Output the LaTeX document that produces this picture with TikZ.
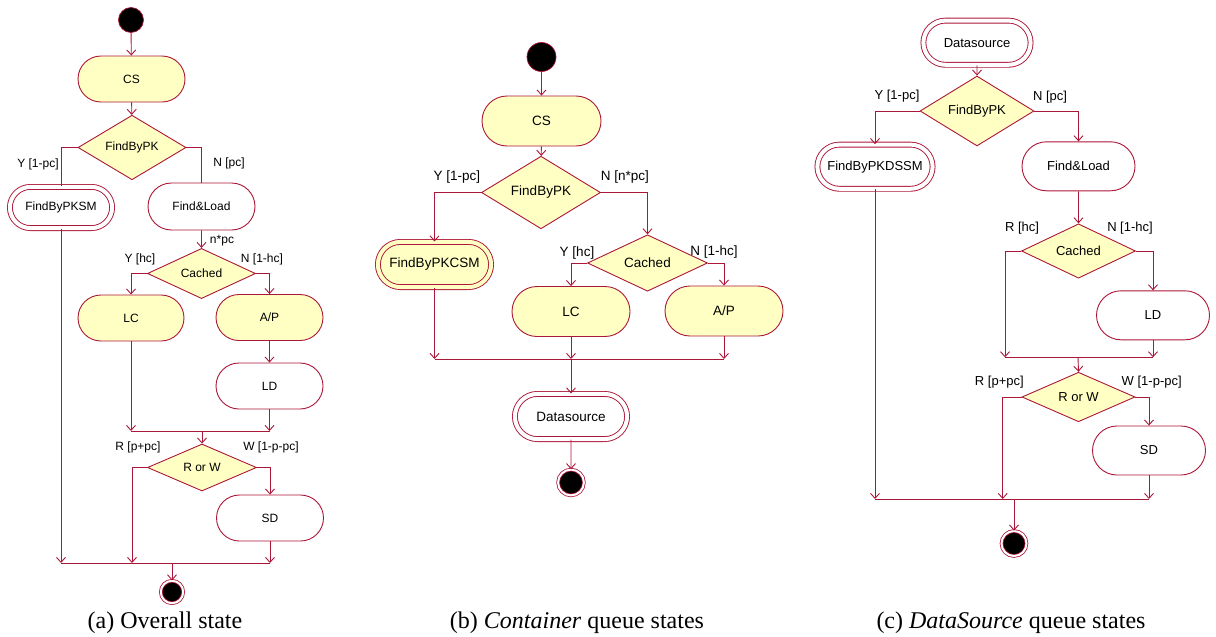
\documentclass[tikz,border=0pt]{standalone}
\usepackage{fontspec}
\setmainfont{Liberation Serif}
\setsansfont{Liberation Sans}
\usetikzlibrary{shapes.misc,shapes.geometric,arrows.meta}
\definecolor{umlred}{RGB}{172,22,56}
\definecolor{umlyel}{RGB}{255,255,196}
\tikzset{
  act/.style={rounded rectangle, draw=umlred, line width=0.9pt, inner sep=1pt},
  yel/.style={act, fill=umlyel},
  wht/.style={act, fill=white},
  subm/.style={act, fill=#1, double=#1, double distance=4pt},
  dec/.style={diamond, draw=umlred, fill=umlyel, line width=0.9pt, inner sep=0pt},
  init/.style={circle, fill=black, draw=umlred, line width=0.7pt, minimum size=#1, inner sep=0pt},
  final/.style={circle, fill=black, draw=umlred, double=white, double distance=2pt, line width=0.8pt, minimum size=#1, inner sep=0pt},
  link/.style={draw=umlred, line width=0.9pt},
  flow/.style={link, -{Straight Barb[length=5pt,width=9pt,line width=0.9pt]}},
  lbl/.style={inner sep=0pt},
  capt/.style={inner sep=0pt, font=\fontsize{24}{28}\selectfont},
}
\begin{document}
\begin{tikzpicture}[x=1pt,y=-1pt]
\useasboundingbox (0,0) rectangle (1216,637);

% ---------------- (a) overall state ----------------
\begin{scope}[every node/.append style={font=\sffamily\fontsize{12}{14}\selectfont}]
\node[init=25pt] (sa) at (131,20) {};
\node[yel, minimum width=109pt, minimum height=46pt] (csa) at (131.5,79) {CS};
\node[dec, minimum width=108pt, minimum height=45pt] (fpka) at (132,147.5) {FindByPK};
\node[subm=white, minimum width=104.2pt, minimum height=41.2pt] (sma) at (61,207.5) {FindByPKSM};
\node[wht, minimum width=109pt, minimum height=47pt] (fla) at (201.5,206.5) {Find\&Load};
\node[dec, minimum width=108pt, minimum height=45pt] (cha) at (201.5,273.5) {Cached};
\node[yel, minimum width=108pt, minimum height=46pt] (lca) at (131,318) {LC};
\node[yel, minimum width=109pt, minimum height=46pt] (apa) at (269.5,317.5) {A/P};
\node[wht, minimum width=109pt, minimum height=46pt] (lda) at (269.5,386) {LD};
\coordinate (j1a) at (202,431);
\node[dec, minimum width=109pt, minimum height=47pt] (rwa) at (202,467.5) {R or W};
\node[wht, minimum width=109pt, minimum height=46pt] (sda) at (270,518) {SD};
\coordinate (j2a) at (172,563);
\coordinate (ra) at (132,563);
\node[final=22.4pt] (ea) at (172,592) {};

\node[lbl] (la1) at (38,164) {Y [1-pc]};
\node[lbl] (la2) at (229,163) {N [pc]};
\node[lbl] (la3) at (222,241) {n*pc};
\node[lbl] (la4) at (140,259) {Y [hc]};
\node[lbl] (la5) at (262,259) {N [1-hc]};
\node[lbl] (la6) at (138,447) {R [p+pc]};
\node[lbl] (la7) at (271,447) {W [1-p-pc]};

\draw[flow] (sa) -- (csa);
\draw[flow] (csa) -- (fpka);
\draw[link] (fpka.west) -| (sma.north);
\draw[link] (fpka.east) -| (fla.north);
\draw[flow] (fla) -- (fla |- cha.north);
\draw[flow] (cha.west) -| (lca.north);
\draw[flow] (cha.east) -| (apa.north);
\draw[flow] (apa) -- (lda);
\draw[link] (lca |- j1a) -- (lda |- j1a);
\draw[flow] (lca.south) -- (lca |- j1a);
\draw[flow] (lda.south) -- (lda |- j1a);
\draw[flow] (j1a) -- (rwa.north);
\draw[flow] (rwa.west) -| (ra);
\draw[flow] (rwa.east) -| (sda.north);
\draw[link] (sma |- j2a) -- (sda |- j2a);
\draw[flow] (sma.south) -- (sma |- j2a);
\draw[flow] (sda.south) -- (sda |- j2a);
\draw[flow] (j2a) -- (ea);
\end{scope}
\node[capt] (capa) at (165,623) {(a) Overall state};

% ---------------- (b) Container queue states ----------------
\begin{scope}[every node/.append style={font=\sffamily\fontsize{13.5}{16}\selectfont}]
\node[init=29pt] (sb) at (541.5,57) {};
\node[yel, minimum width=121pt, minimum height=50pt] (csb) at (541.5,121) {CS};
\node[dec, minimum width=119pt, minimum height=49pt] (fpkb) at (541,192.5) {FindByPK};
\node[subm=umlyel, minimum width=115.2pt, minimum height=45.2pt] (smb) at (434.5,264.5) {FindByPKCSM};
\node[dec, minimum width=120pt, minimum height=50pt] (chb) at (647.5,263) {Cached};
\node[yel, minimum width=120pt, minimum height=50pt] (lcb) at (571,311.5) {LC};
\node[yel, minimum width=120pt, minimum height=50pt] (apb) at (724,311) {A/P};
\coordinate (j1b) at (571,359);
\node[subm=white, minimum width=114.2pt, minimum height=45.2pt] (dsb) at (571,416.5) {Datasource};
\node[final=25.8pt] (eb) at (571,482.5) {};

\node[lbl] (lb1) at (457,177) {Y [1-pc]};
\node[lbl] (lb2) at (625,177) {N [n*pc]};
\node[lbl] (lb3) at (577,253) {Y [hc]};
\node[lbl] (lb4) at (714,252) {N [1-hc]};

\draw[flow] (sb) -- (csb);
\draw[flow] (csb) -- (fpkb);
\draw[flow] (fpkb.west) -| (smb.north);
\draw[flow] (fpkb.east) -| (chb.north);
\draw[flow] (chb.west) -| (lcb.north);
\draw[flow] (chb.east) -| (apb.north);
\draw[link] (smb |- j1b) -- (apb |- j1b);
\draw[flow] (smb.south) -- (smb |- j1b);
\draw[flow] (lcb.south) -- (lcb |- j1b);
\draw[flow] (apb.south) -- (apb |- j1b);
\draw[flow] (j1b) -- (dsb.north);
\draw[flow] (dsb) -- (eb);
\end{scope}
\node[capt] (capb) at (577,623) {(b) \textit{Container} queue states};

% ---------------- (c) DataSource queue states ----------------
\begin{scope}[every node/.append style={font=\sffamily\fontsize{13}{15}\selectfont}]
\node[subm=white, minimum width=109.2pt, minimum height=44.2pt] (dsc) at (977,42.7) {Datasource};
\node[dec, minimum width=114pt, minimum height=48pt] (fpkc) at (977,111) {FindByPK};
\node[subm=white, minimum width=117.2pt, minimum height=44.2pt] (smc) at (875,166.7) {FindByPKDSSM};
\node[wht, minimum width=115pt, minimum height=49pt] (flc) at (1078.5,166.3) {Find\&Load};
\node[dec, minimum width=114pt, minimum height=49pt] (chc) at (1078.5,251) {Cached};
\node[wht, minimum width=115pt, minimum height=49pt] (ldc) at (1153,315.3) {LD};
\coordinate (j1c) at (1078,357.3);
\coordinate (rc1) at (1005,357.3);
\node[dec, minimum width=113pt, minimum height=48pt] (rwc) at (1078.5,397) {R or W};
\node[wht, minimum width=115pt, minimum height=49pt] (sdc) at (1149,450.5) {SD};
\coordinate (j2c) at (1014,499);
\coordinate (rc2) at (1002.7,499);
\node[final=25pt] (ec) at (1014,543.5) {};

\node[lbl] (lc1) at (897,96) {Y [1-pc]};
\node[lbl] (lc2) at (1050,97) {N [pc]};
\node[lbl] (lc3) at (1022,228.3) {R [hc]};
\node[lbl] (lc4) at (1130,228.3) {N [1-hc]};
\node[lbl] (lc5) at (999.3,381.7) {R [p+pc]};
\node[lbl] (lc6) at (1151.7,381.7) {W [1-p-pc]};

\draw[flow] (dsc) -- (fpkc);
\draw[flow] (fpkc.west) -| (smc.north);
\draw[flow] (fpkc.east) -| (flc.north);
\draw[flow] (flc) -- (chc);
\draw[flow] (chc.west) -| (rc1);
\draw[flow] (chc.east) -| (ldc.north);
\draw[link] (rc1) -- (ldc |- j1c);
\draw[flow] (ldc.south) -- (ldc |- j1c);
\draw[flow] (j1c) -- (rwc.north);
\draw[flow] (rwc.west) -| (rc2);
\draw[flow] (rwc.east) -| (sdc.north);
\draw[link] (smc |- j2c) -- (sdc |- j2c);
\draw[flow] (smc.south) -- (smc |- j2c);
\draw[flow] (sdc.south) -- (sdc |- j2c);
\draw[flow] (j2c) -- (ec);
\end{scope}
\node[capt] (capc) at (1011,623) {(c) \textit{DataSource} queue states};
\end{tikzpicture}
\end{document}
